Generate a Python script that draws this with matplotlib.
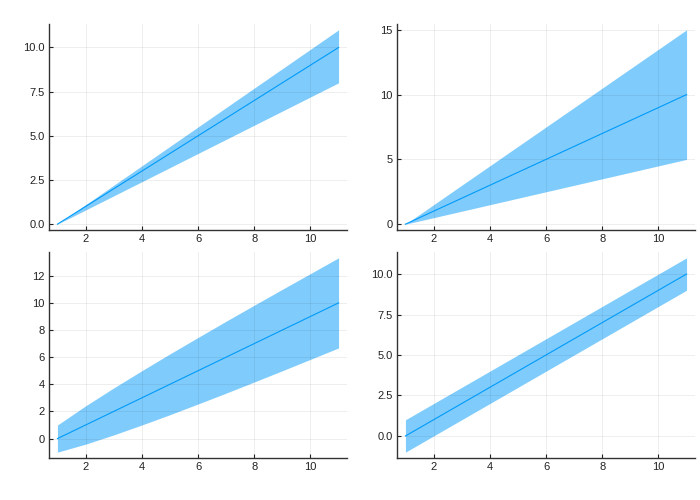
import matplotlib
matplotlib.use("Agg")
import matplotlib.pyplot as plt

plt.rcParams['font.family'] = ['Liberation Sans', 'DejaVu Sans']

x = [1, 2, 3, 4, 5, 6, 7, 8, 9, 10, 11]
y = [0, 1, 2, 3, 4, 5, 6, 7, 8, 9, 10]

# ribbon widths (below, above) for each panel
rib_tl_lo = [0, 0.2, 0.4, 0.6, 0.8, 1.0, 1.2, 1.4, 1.6, 1.8, 2.0]
rib_tl_hi = [0, 0.1, 0.2, 0.3, 0.4, 0.5, 0.6, 0.7, 0.8, 0.9, 1.0]
rib_tr = [0, 0.5, 1.0, 1.5, 2.0, 2.5, 3.0, 3.5, 4.0, 4.5, 5.0]
rib_bl = [1.0, 1.41, 1.73, 2.0, 2.24, 2.45, 2.65, 2.83, 3.0, 3.16, 3.32]
rib_br = [1, 1, 1, 1, 1, 1, 1, 1, 1, 1, 1]

ribbons = [(rib_tl_lo, rib_tl_hi), (rib_tr, rib_tr), (rib_bl, rib_bl), (rib_br, rib_br)]
yticks = [[0, 2.5, 5, 7.5, 10], [0, 5, 10, 15], [0, 2, 4, 6, 8, 10, 12], [0, 2.5, 5, 7.5, 10]]

blue = '#009AFA'

fig = plt.figure(figsize=(7, 5), dpi=100)
W, H = 700, 500
boxes = [(49, 24, 347, 230), (397, 24, 695, 230), (49, 252, 347, 458), (397, 252, 695, 458)]

for (l, t, r, b), (lo, hi), yt in zip(boxes, ribbons, yticks):
    ax = fig.add_axes([l / W, 1 - b / H, (r - l) / W, (b - t) / H])
    low = [yi - d for yi, d in zip(y, lo)]
    high = [yi + d for yi, d in zip(y, hi)]
    ax.fill_between(x, low, high, color=blue, alpha=0.5, linewidth=0)
    ax.plot(x, y, color=blue, linewidth=0.8)
    ax.set_xlim(0.7, 11.3)
    ymin, ymax = min(low), max(high)
    pad = 0.03 * (ymax - ymin)
    ax.set_ylim(ymin - pad, ymax + pad)
    ax.set_xticks([2, 4, 6, 8, 10])
    ax.set_yticks(yt)
    if isinstance(yt[1], float):
        ax.set_yticklabels([f'{v:.1f}' for v in yt])
    else:
        ax.set_yticklabels([str(v) for v in yt])
    ax.grid(True, color='black', alpha=0.08, linewidth=0.6)
    for s in ['top', 'right']:
        ax.spines[s].set_visible(False)
    for s in ['left', 'bottom']:
        ax.spines[s].set_color('#333333')
        ax.spines[s].set_linewidth(1.0)
    ax.tick_params(direction='in', length=3, width=0.8, labelsize=8, colors='#222222', pad=3)

fig.savefig('out.png', dpi=100)
